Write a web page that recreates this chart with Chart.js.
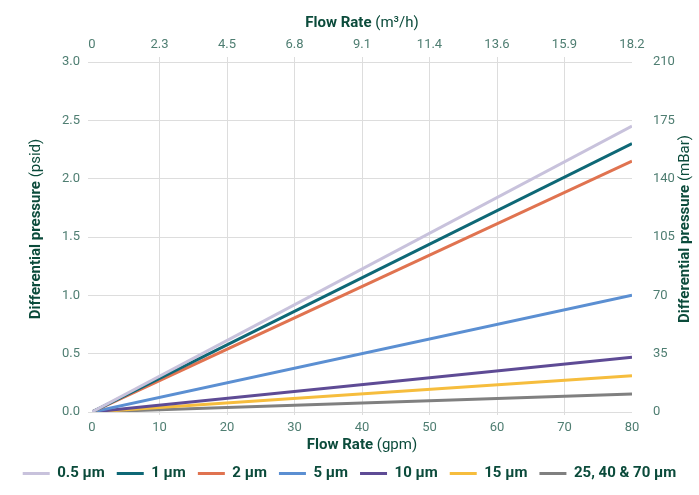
<!DOCTYPE html>
<html>
<head>
<meta charset="utf-8">
<script src="https://cdn.jsdelivr.net/npm/chart.js@4/dist/chart.umd.min.js"></script>
<style>
  html, body { margin: 0; padding: 0; background: #ffffff; }
  #wrap { width: 699px; height: 495px; position: relative; }
</style>
</head>
<body>
<div id="wrap"><canvas id="chart" width="699" height="495"></canvas></div>
<script>
// Flow rate (gpm) at the two ends of each straight pressure-drop line
const flowGpm = [0, 80];

// Differential pressure (psid) for each filter rating
const dp05um = [0, 2.45];
const dp1um = [0, 2.30];
const dp2um = [0, 2.15];
const dp5um = [0, 1.00];
const dp10um = [0, 0.47];
const dp15um = [0, 0.31];
const dp25um = [0, 0.155];

const seriesNames = ['0.5 µm', '1 µm', '2 µm', '5 µm', '10 µm', '15 µm', '25, 40 & 70 µm'];
const seriesColors = ['#c8c2dc', '#0e6876', '#e07350', '#5b8fd2', '#5e4b95', '#f6bd3d', '#808080'];

// Top axis tick labels (m³/h), one per 10 gpm step
const flowM3h = ['0', '2.3', '4.5', '6.8', '9.1', '11.4', '13.6', '15.9', '18.2'];

const tickColor = '#4f7e72';
const titleColor = '#0b4b3b';
const gridColor = '#dddddd';
const fontFamily = 'Roboto, "Noto Sans", sans-serif';

const allSeries = [dp05um, dp1um, dp2um, dp5um, dp10um, dp15um, dp25um];
const datasets = allSeries.map((vals, i) => ({
  label: seriesNames[i],
  data: flowGpm.map((x, j) => ({ x: x, y: vals[j] })),
  borderColor: seriesColors[i],
  backgroundColor: seriesColors[i],
  borderWidth: 3,
  pointRadius: 0,
  tension: 0,
  fill: false,
  order: i,
  xAxisID: 'x',
  yAxisID: 'y'
}));

function edgeTransparent(ctx) {
  const v = ctx.tick ? ctx.tick.value : null;
  return (v === 0 || v === 80) ? 'rgba(0,0,0,0)' : gridColor;
}

// Axis titles with a bold name and a regular unit
function drawMixed(ctx, parts, cx, cy, rot) {
  ctx.save();
  ctx.translate(cx, cy);
  ctx.rotate(rot);
  ctx.textBaseline = 'middle';
  ctx.textAlign = 'left';
  let total = 0;
  const widths = parts.map(p => {
    ctx.font = p.font;
    const w = ctx.measureText(p.text).width;
    total += w;
    return w;
  });
  let x = -total / 2;
  parts.forEach((p, i) => {
    ctx.font = p.font;
    ctx.fillStyle = titleColor;
    ctx.fillText(p.text, x, 0);
    x += widths[i];
  });
  ctx.restore();
}

const boldF = '700 15px ' + fontFamily;
const regF = '400 15px ' + fontFamily;

const axisTitles = {
  id: 'axisTitles',
  afterDraw(chart) {
    const ctx = chart.ctx;
    const a = chart.chartArea;
    const midX = (a.left + a.right) / 2;
    const midY = (a.top + a.bottom) / 2 - 8;
    drawMixed(ctx, [{ text: 'Flow Rate ', font: boldF }, { text: '(m³/h)', font: regF }], midX, a.top - 39, 0);
    drawMixed(ctx, [{ text: 'Flow Rate ', font: boldF }, { text: '(gpm)', font: regF }], midX, a.bottom + 33, 0);
    drawMixed(ctx, [{ text: 'Differential pressure ', font: boldF }, { text: '(psid)', font: regF }], a.left - 56, midY, -Math.PI / 2);
    drawMixed(ctx, [{ text: 'Differential pressure ', font: boldF }, { text: '(mBar)', font: regF }], a.right + 53, midY, -Math.PI / 2);
  }
};

new Chart(document.getElementById('chart'), {
  type: 'line',
  data: { datasets: datasets },
  plugins: [axisTitles],
  options: {
    responsive: false,
    animation: false,
    layout: { padding: { left: 0, right: 0, top: 0, bottom: 4 } },
    plugins: {
      tooltip: { enabled: false },
      legend: {
        position: 'bottom',
        labels: {
          usePointStyle: true,
          pointStyle: 'line',
          pointStyleWidth: 27,
          padding: 12,
          color: titleColor,
          font: { family: fontFamily, size: 15, weight: '700' }
        }
      }
    },
    scales: {
      x: {
        type: 'linear',
        position: 'bottom',
        min: 0, max: 80,
        border: { display: false },
        grid: { color: edgeTransparent, tickLength: 3 },
        ticks: { stepSize: 10, color: tickColor, padding: 5, font: { family: fontFamily, size: 13 } },
        afterFit(s) { s.height = 42; }
      },
      x2: {
        type: 'linear',
        position: 'top',
        min: 0, max: 80,
        border: { display: false },
        grid: { drawOnChartArea: false, color: edgeTransparent, tickLength: 5 },
        ticks: {
          stepSize: 10, color: tickColor, padding: 4,
          font: { family: fontFamily, size: 13 },
          callback: (v, i) => flowM3h[i]
        },
        afterFit(s) { s.height = 62; }
      },
      y: {
        type: 'linear',
        position: 'left',
        min: 0, max: 3,
        border: { display: false },
        grid: { color: gridColor, tickLength: 4 },
        ticks: {
          stepSize: 0.5, color: tickColor, padding: 8,
          font: { family: fontFamily, size: 13 },
          callback: v => v.toFixed(1)
        },
        afterFit(s) { s.width = 92; }
      },
      y2: {
        type: 'linear',
        position: 'right',
        min: 0, max: 210,
        border: { display: false },
        grid: { display: false },
        ticks: { stepSize: 35, color: tickColor, padding: 13, font: { family: fontFamily, size: 13 } },
        afterFit(s) { s.width = 67; }
      }
    }
  }
});
</script>
</body>
</html>
